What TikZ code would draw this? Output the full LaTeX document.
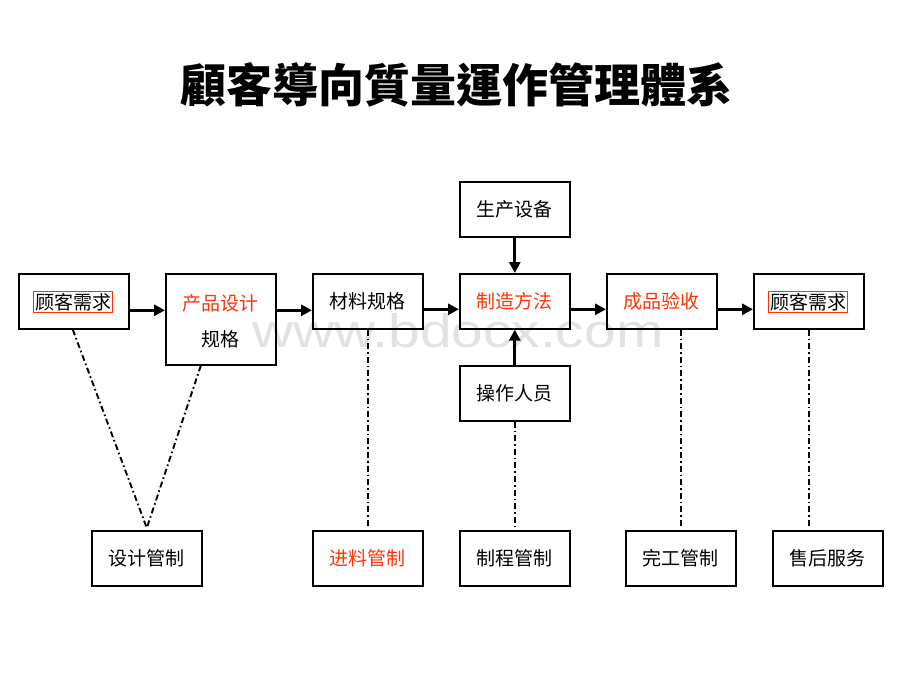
\documentclass[tikz,border=0pt]{standalone}
\usepackage{fontspec}
\setmainfont{Liberation Sans}
\newfontfamily\cjk{Noto Sans CJK SC}
\newfontfamily\cjktc{Noto Sans CJK TC}
\usetikzlibrary{arrows.meta}
\definecolor{hot}{HTML}{FF3300}
\definecolor{wm}{HTML}{E2E2E2}
\tikzset{
  box/.style={draw=black, line width=1.6pt, fill=none, minimum width=110pt, minimum height=55pt, anchor=north west, inner sep=0pt, font=\cjk\fontsize{19}{23}\selectfont, align=center},
  tall/.style={box, minimum height=91pt},
  arr/.style={line width=2.8pt, -{Triangle[length=11pt,width=11pt]}},
  dd/.style={line width=1.9pt, dash pattern=on 6pt off 3pt on 1.6pt off 3pt},
  tag/.style={draw=hot, line width=0.9pt, inner sep=1.5pt, font=\cjk\fontsize{19}{23}\selectfont}
}
\begin{document}
\begin{tikzpicture}[x=1pt,y=-1pt]
\useasboundingbox[fill=white] (0,0) rectangle (920,690);
% watermark
\node[text=wm, font=\fontsize{47}{50}\selectfont, xscale=1.21, anchor=base] (wmk) at (458,347) {www.bdocx.com};
% title
\node[font=\cjktc\bfseries\fontsize{46}{50}\selectfont] (title) at (456,85) {顧客導向質量運作管理體系};
% top row
\node[box] (c1) at (18,273) {};
\node[tag] (c1t) at (73,302) {顾客需求};
\node[tall] (pd) at (165,273) {};
\node[text=hot, font=\cjk\fontsize{19}{23}\selectfont] (pdt) at (220,303) {产品设计};
\node[font=\cjk\fontsize{19}{23}\selectfont] (pds) at (220,339) {规格};
\node[box] (mat) at (312,273) {材料规格};
\node[box, text=hot] (mfg) at (459,273) {制造方法};
\node[box, text=hot] (fin) at (606,273) {成品验收};
\node[box] (c2) at (753,273) {};
\node[tag] (c2t) at (808,302) {顾客需求};
\node[box] (eq) at (459,181) {生产设备};
\node[box] (op) at (459,365) {操作人员};
% bottom row
\node[box] (dc) at (91,530) {设计管制};
\node[box, text=hot] (ic) at (312,530) {进料管制};
\node[box] (pc) at (459,530) {制程管制};
\node[box] (cc) at (625,530) {完工管制};
\node[box] (as) at (772,530) {售后服务};
% arrows
\draw[arr] ([yshift=-9pt]c1.east) -- ([yshift=-9pt]c1.east -| pd.west);
\draw[arr] ([yshift=-9pt]c1.east -| pd.east) -- ([yshift=-9pt]mat.east -| mat.west);
\draw[arr] ([yshift=-8pt]mat.east) -- ([yshift=-8pt]mfg.west);
\draw[arr] ([yshift=-8pt]mfg.east) -- ([yshift=-8pt]fin.west);
\draw[arr] ([yshift=-8pt]fin.east) -- ([yshift=-8pt]c2.west);
\draw[arr] (eq.south) -- (mfg.north);
\draw[arr] (op.north) -- (mfg.south);
% dash-dot links
\coordinate (dctop) at ([yshift=2pt]dc.north);
\draw[dd] ([xshift=-1pt]c1.south) -- (dctop);
\draw[dd] ([xshift=-20pt]pd.south) -- (dctop);
\draw[dd] (mat.south) -- ([yshift=3pt]ic.north);
\draw[dd] (op.south) -- (pc.north);
\draw[dd] (fin.south -| cc.north) -- ([yshift=3pt]cc.north);
\draw[dd] (c2.south) -- ([yshift=3pt]c2.south |- as.north);
\end{tikzpicture}
\end{document}
